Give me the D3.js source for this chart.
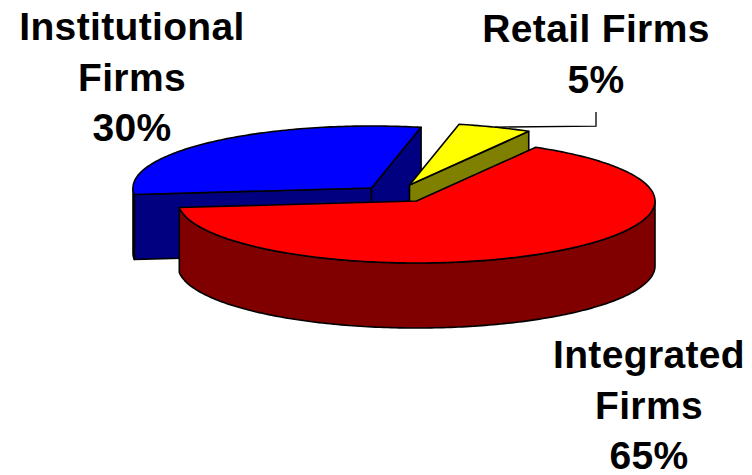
<!DOCTYPE html>
<html>
<head>
<meta charset="utf-8">
<script src="https://d3js.org/d3.v7.min.js"></script>
<style>
  html, body { margin: 0; padding: 0; background: #fff; }
  svg { display: block; }
  text { font-family: "Liberation Sans", Arial, sans-serif; font-weight: bold; fill: #000; }
</style>
</head>
<body>
<script>
// chart values, in the order they go round the pie
var categories = ["Integrated Firms", "Institutional Firms", "Retail Firms"];
var shares = [65, 30, 5];

var width = 752;
var height = 475;

// defines the fake 3d pie
var pieCenter = {x: 416.5, y: 201};
var rx = 238.5;
var ry = 62;
var depth = 65;
var firstAngle = 30 * Math.PI / 180;

// per slice drawing settings
var offsets = [[0, 0], [-45, -13], [-7, -16]];
var topColours = ["#ff0000", "#0000ff", "#ffff00"];
var sideColours = ["#800000", "#000080", "#808000"];
var labelBoxes = [
  {x: 649, y: 368, lines: ["Integrated", "Firms", "65%"]},
  {x: 132, y: 40, lines: ["Institutional", "Firms", "30%"]},
  {x: 596, y: 42, lines: ["Retail Firms", "5%"]}
];

var svg = d3.select("body")
            .append("svg")
            .attr("width", width)
            .attr("height", height);

// rescales the unit circle to the flattened ellipse
var xScale = d3.scaleLinear().domain([-1, 1]).range([pieCenter.x - rx, pieCenter.x + rx]);
var yScale = d3.scaleLinear().domain([-1, 1]).range([pieCenter.y + ry, pieCenter.y - ry]);

var slices = d3.pie()
               .sort(null)
               .startAngle(firstAngle)
               .endAngle(firstAngle + 2 * Math.PI)(shares);

var line = d3.line();

// point on the rim of slice i, angle goes clockwise from the top
const rim = function(angle, i, drop) {
  return [xScale(Math.sin(angle)) + offsets[i][0],
          yScale(Math.cos(angle)) + offsets[i][1] + (drop || 0)];
};
const apex = function(i, drop) {
  return [xScale(0) + offsets[i][0], yScale(0) + offsets[i][1] + (drop || 0)];
};
const arcPoints = function(a, b, i, drop) {
  var n = Math.max(2, Math.ceil((b - a) * 60));
  return d3.range(n + 1).map(function(k) {
    return rim(a + (b - a) * k / n, i, drop);
  });
};

const drawFace = function(points, colour) {
  svg.append("path")
     .attr("d", line(points) + "Z")
     .attr("fill", colour)
     .attr("stroke", "#000")
     .attr("stroke-width", 1.6)
     .attr("stroke-linejoin", "round");
};

// draws back to front: blue, yellow, red
[1, 2, 0].forEach(function(i) {
  var a = slices[i].startAngle;
  var b = slices[i].endAngle;

  // the cut faces, only when they look at the viewer
  if (Math.sin(a) < 0) {
    drawFace([apex(i), rim(a, i), rim(a, i, depth), apex(i, depth)], sideColours[i]);
  }
  if (Math.sin(b) > 0) {
    drawFace([apex(i), rim(b, i), rim(b, i, depth), apex(i, depth)], sideColours[i]);
  }

  // outer wall, only the front half of the rim
  var from = Math.max(a, Math.PI / 2);
  var to = Math.min(b, 3 * Math.PI / 2);
  if (to > from) {
    drawFace(arcPoints(from, to, i).concat(arcPoints(from, to, i, depth).reverse()), sideColours[i]);
  }

  // top of the slice
  drawFace([apex(i)].concat(arcPoints(a, b, i)), topColours[i]);
});

// leader line of the small slice
var mid = (slices[2].startAngle + slices[2].endAngle) / 2;
var anchor = rim(mid, 2);
svg.append("path")
   .attr("d", line([anchor, [labelBoxes[2].x, anchor[1] - 1], [labelBoxes[2].x, 112]]))
   .attr("fill", "none")
   .attr("stroke", "#000")
   .attr("stroke-width", 1.3);

// labels
labelBoxes.forEach(function(box) {
  box.lines.forEach(function(txt, k) {
    svg.append("text")
       .attr("x", box.x)
       .attr("y", box.y + k * 50.5)
       .attr("text-anchor", "middle")
       .attr("font-size", 39)
       .attr("letter-spacing", 0.35)
       .text(txt);
  });
});
</script>
</body>
</html>
